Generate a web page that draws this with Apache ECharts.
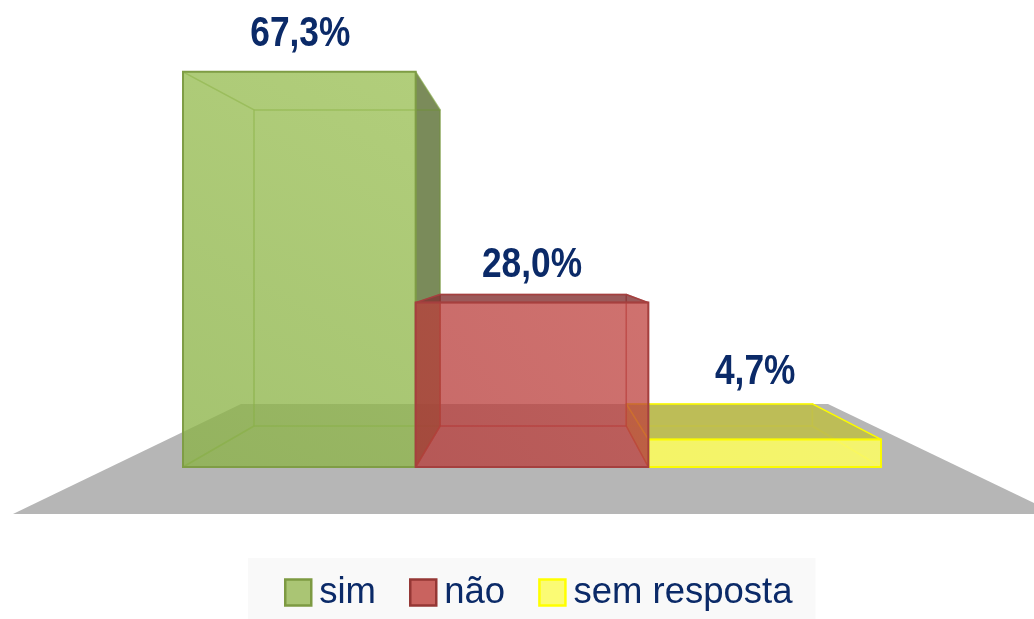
<!DOCTYPE html>
<html><head><meta charset="utf-8">
<style>html,body{margin:0;padding:0;background:#fff}#c{width:1034px;height:619px}</style>
<script src="https://cdn.jsdelivr.net/npm/echarts@6/dist/echarts.min.js"></script>
</head><body><div id="c"></div>
<script>
const categories = ['sim', 'não', 'sem resposta'];
const values = [67.3, 28.0, 4.7];
const valueLabels = ['67,3%', '28,0%', '4,7%'];

const FONT = '"Liberation Sans",Arial,sans-serif';
const TEXT = '#0b2a68';
const vanish = {x: 538, y: 262}, depth = 0.8;
const styles = [
  {front0:'rgba(138,178,70,.77)', front1:'rgba(155,192,85,.77)', border:'#7f9d45', line:'rgba(125,160,65,.4)', side:'rgba(90,110,50,.8)', inner:'rgba(125,160,65,.03)', legend:'#aac574', lb:'#7d9a42'},
  {front0:'rgba(182,58,56,.75)', front1:'rgba(192,68,64,.75)', border:'#a5403f', line:'rgba(170,55,55,.45)', side:'rgba(130,50,50,.8)', inner:'rgba(170,55,55,.03)', legend:'#c9635f', lb:'#953735'},
  {front0:'rgba(255,255,90,.85)', front1:'rgba(255,255,100,.85)', border:'#fbfb00', line:'rgba(225,215,40,.5)', side:'rgba(190,190,72,.85)', inner:'rgba(225,215,40,.05)', legend:'#fbfb74', lb:'#ffff00'}
];
const labelShift = [[1,-16],[0,-8],[-9.5,-10]];

function back(p){ return [vanish.x+depth*(p[0]-vanish.x), vanish.y+depth*(p[1]-vanish.y)]; }

function renderBar(params, api){
  const i = api.value(0), v = api.value(1), s = styles[i];
  const band = api.size([1,0])[0];
  const c0 = api.coord([i,0]), c1 = api.coord([i,v]);
  const l = c0[0]-band/2, r = c0[0]+band/2, b = c0[1], t = c1[1];
  const fl=[l,b], fr=[r,b], tl=[l,t], tr=[r,t];
  const bl=back(fl), br=back(fr), btl=back(tl), btr=back(tr);
  const face=(pts,fill,stroke)=>({type:'polygon',shape:{points:pts},style:{fill:fill,stroke:stroke,lineWidth:1.5,lineJoin:'round'}});
  const ch=[];
  ch.push(face([btl,btr,br,bl],s.inner,s.line));
  ch.push(face([fl,fr,br,bl],s.inner,s.line));
  ch.push(face([tl,btl,bl,fl],btl[0]<l?s.side:s.inner,s.line));
  ch.push(face([tr,btr,br,fr],btr[0]>r?s.side:s.inner,s.line));
  ch.push(face([tl,tr,btr,btl],btl[1]<t?s.side:s.inner,btl[1]<t?s.border:s.line));
  ch.push({type:'rect',shape:{x:l,y:t,width:r-l,height:b-t},style:{
    fill:new echarts.graphic.LinearGradient(0,1,1,0,[{offset:0,color:s.front0},{offset:1,color:s.front1}]),
    stroke:s.border,lineWidth:2}});
  const sh=labelShift[i];
  ch.push({type:'text',z2:50,x:(l+r)/2+sh[0],y:Math.min(t,btl[1])+sh[1],scaleX:0.82,style:{text:valueLabels[i],x:0,y:0,
    align:'center',verticalAlign:'bottom',fill:TEXT,font:'bold 43px '+FONT}});
  return {type:'group',children:ch};
}

const mk=(i,z)=>({type:'custom',name:categories[i],z:z,clip:false,renderItem:renderBar,
  itemStyle:{color:styles[i].legend},encode:{x:0,y:1},data:[[i,values[i]]]});

const chart = echarts.init(document.getElementById('c'),null,{renderer:'canvas'});
chart.setOption({
  animation:false,
  backgroundColor:'#fff',
  grid:{left:183,width:698,top:56,height:411},
  xAxis:{type:'category',data:categories,show:false},
  yAxis:{type:'value',min:0,max:70,show:false},
  graphic:[{type:'polygon',z:0,silent:true,shape:{points:[[13,514],[1057,514],[828,404],[241,404]]},style:{fill:'#b6b6b6'}}],
  legend:{left:248,top:558,orient:'horizontal',backgroundColor:'#f9f9f9',padding:[16,23,10,36],
    itemWidth:26,itemHeight:26,itemGap:33,selectedMode:false,
    textStyle:{fontFamily:FONT,fontSize:36.5,color:TEXT,lineHeight:34,padding:[0,0,0,3]},
    data:categories.map((n,i)=>({name:n,icon:'rect',itemStyle:{color:styles[i].legend,borderColor:styles[i].lb,borderWidth:2.5}}))},
  series:[mk(0,2),mk(2,3),mk(1,4)]
});
</script></body></html>
